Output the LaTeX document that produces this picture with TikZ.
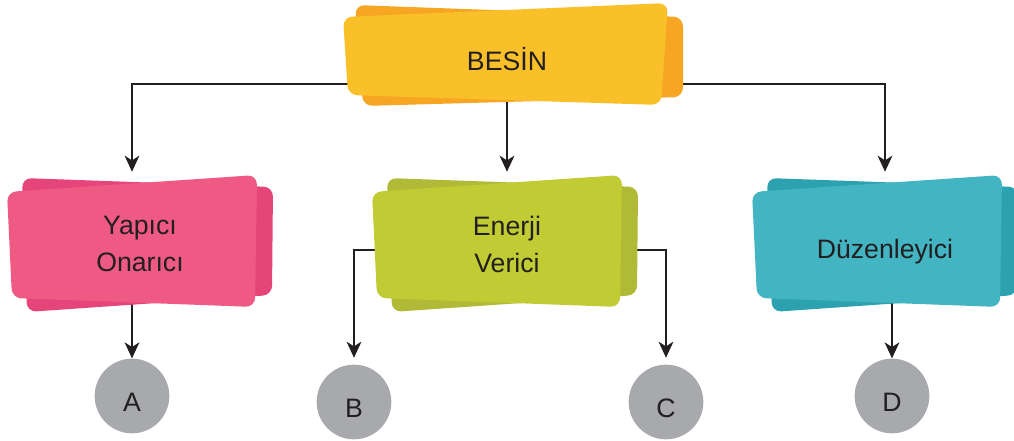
\documentclass[tikz,border=0pt]{standalone}
\usepackage{fontspec}
\setmainfont{Liberation Sans}
\usetikzlibrary{arrows.meta}

\definecolor{ink}{HTML}{231F20}
\definecolor{besinFront}{HTML}{F9C02A}
\definecolor{besinBack}{HTML}{F6A623}
\definecolor{yapiciFront}{HTML}{EF5A85}
\definecolor{yapiciBack}{HTML}{E6457A}
\definecolor{enerjiFront}{HTML}{C1CC34}
\definecolor{enerjiBack}{HTML}{B0BA36}
\definecolor{duzenFront}{HTML}{42B4C2}
\definecolor{duzenBack}{HTML}{2CA2B0}
\definecolor{dotgray}{HTML}{A8A9AC}

\pgfdeclarelayer{background}
\pgfsetlayers{background,main}

\begin{document}
\begin{tikzpicture}[x=0.75pt,y=0.75pt,yscale=-1,
  label font/.style={text=ink,font=\fontsize{20}{27.75}\selectfont},
  box/.style={label font,minimum width=180pt,minimum height=108pt,align=center,inner sep=0pt},
  dot/.style={label font,circle,fill=dotgray,minimum size=56pt,inner sep=0pt,text height=23pt,text depth=0pt},
  arr/.style={draw=ink,line width=1.7pt,-{Stealth[length=12pt,width=11pt,inset=3.5pt]}}]
\useasboundingbox (0,0) rectangle (1014,441);

%Shape: Card BESIN
\fill [besinBack,rounded corners=7pt] (355,5) -- (683,17) -- (683,97) -- (363,106) -- cycle ;
\fill [besinFront,rounded corners=7pt] (343,17) -- (668,3) -- (661,105) -- (348,95) -- cycle ;
%Shape: Card Yapici
\fill [yapiciBack,rounded corners=7pt] (22,178) -- (273,187) -- (272,295) -- (27,312) -- cycle ;
\fill [yapiciFront,rounded corners=7pt] (7,192) -- (257,175) -- (255,307) -- (12,298) -- cycle ;
%Shape: Card Enerji
\fill [enerjiBack,rounded corners=7pt] (387,178) -- (638,187) -- (637,295) -- (392,312) -- cycle ;
\fill [enerjiFront,rounded corners=7pt] (372,192) -- (622,175) -- (620,307) -- (377,298) -- cycle ;
%Shape: Card Duzenleyici
\fill [duzenBack,rounded corners=7pt] (767,178) -- (1018,187) -- (1017,295) -- (772,312) -- cycle ;
\fill [duzenFront,rounded corners=7pt] (752,192) -- (1002,175) -- (1000,307) -- (757,298) -- cycle ;

% Text Node
\node [label font,inner sep=0pt,text height=14.3pt,text depth=0pt] (besin) at (507,61) {BESİN};
% Text Node
\node [box] (yapici) at (140,244) {Yapıcı\\Onarıcı};
% Text Node
\node [box] (enerji) at (507,244) {Enerji\\Verici};
% Text Node
\node [box,text height=22.5pt,text depth=0pt] (duzen) at (885,244) {Düzenleyici};

% Circles
\node [dot] (a) at (132,396) {A};
\node [dot] (b) at (354,402) {B};
\node [dot] (c) at (666,402) {C};
\node [dot] (d) at (892,396) {D};

% Connectors
\begin{pgfonlayer}{background}
\draw [arr] (besin.center) -- ++(0,23) -| (yapici.north -| a);
\draw [arr] (besin.center) -- ++(0,23) -| (duzen.north);
\draw [arr] (besin.center) -- (enerji.north);
\draw [arr] (yapici.center -| a) -- (a.north);
\draw [arr,shorten >=5pt] (enerji.center) ++(0,6) -| (b.north);
\draw [arr,shorten >=5pt] (enerji.center) ++(0,6) -| (c.north);
\draw [arr] (duzen.center -| d) -- (d.north);
\end{pgfonlayer}
\end{tikzpicture}
\end{document}
